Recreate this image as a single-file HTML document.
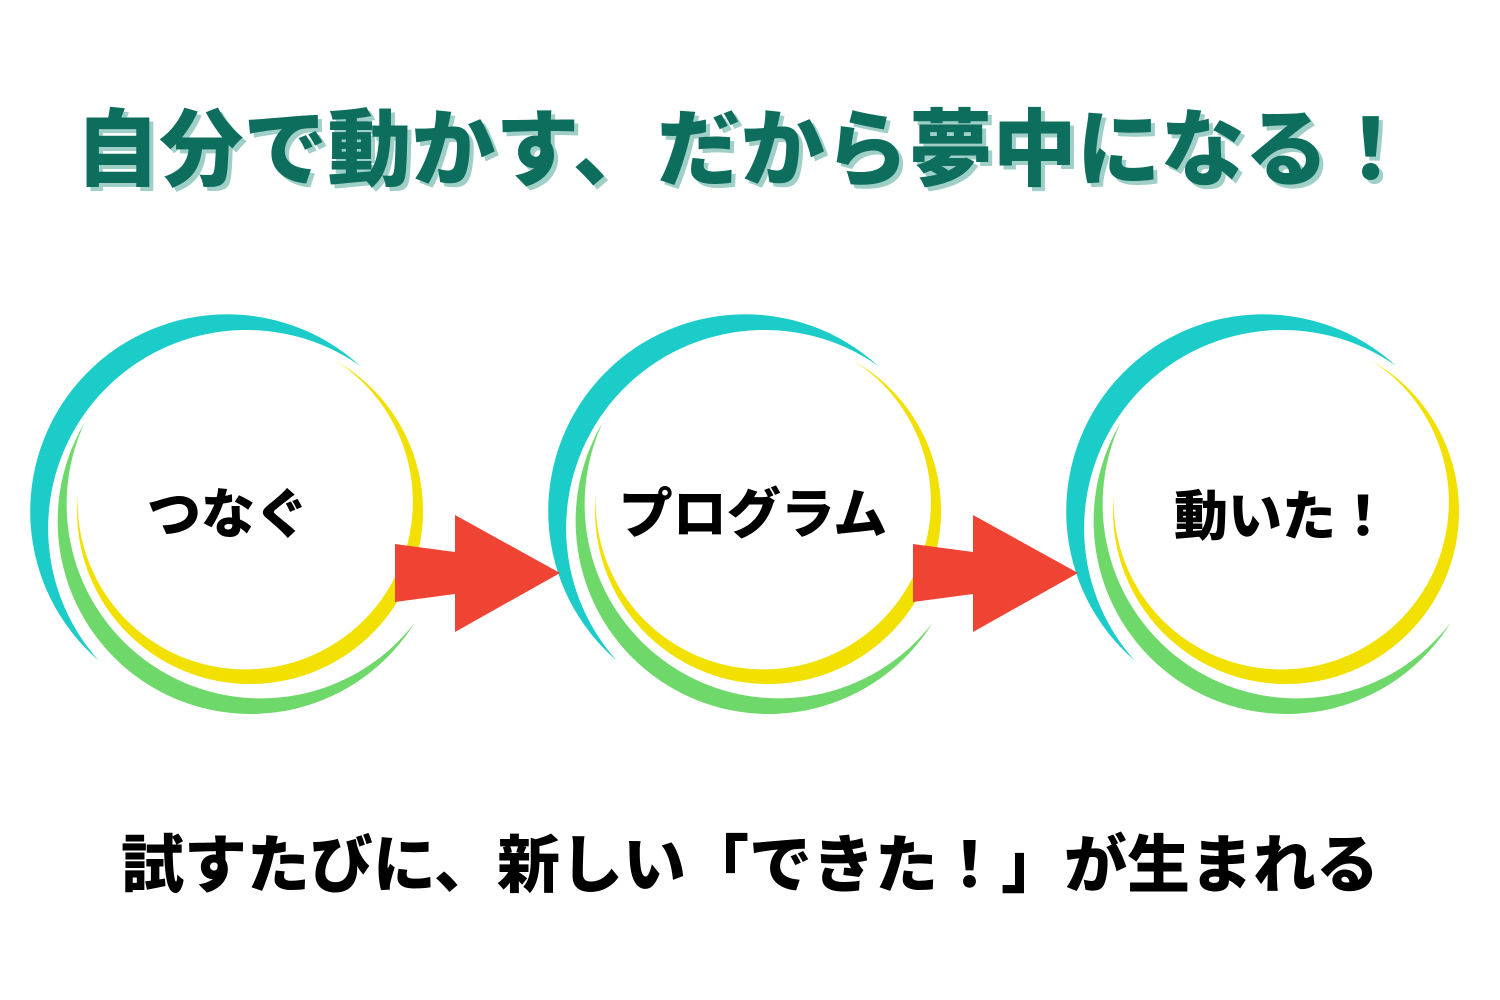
<!DOCTYPE html>
<html><head><meta charset="utf-8"><style>
html,body{margin:0;padding:0;background:#fff;}
body{width:1500px;height:1000px;position:relative;overflow:hidden;font-family:"Liberation Sans","Noto Sans CJK JP",sans-serif;}
.t{position:absolute;white-space:nowrap;font-weight:900;text-align:center;}
</style></head><body>
<svg width="1500" height="1000" style="position:absolute;left:0;top:0">
<defs>
<g id="c">
<path d="M 98.8 660.7 A 197 197 0 1 1 359.8 365.6 A 198.3 198.3 0 0 0 98.8 660.7 Z" fill="#1cccc8"/>
<path d="M 414.6 622.8 A 193 193 0 0 1 84.6 422.6 A 194.2 194.2 0 0 0 414.6 622.8 Z" fill="#6fd86a"/>
<path d="M 335.7 360.7 A 173 173 0 1 1 77.8 494.7 A 167.6 167.6 0 1 0 335.7 360.7 Z" fill="#f2e000"/>
</g>
</defs>
<use href="#c"/>
<use href="#c" x="518"/>
<use href="#c" x="1036"/>
<polygon points="395,544 455,552 455,515 560,573 455,632 455,594 395,602" fill="#ef4434"/>
<polygon points="913,544 973,552 973,515 1078,573 973,632 973,594 913,602" fill="#ef4434"/>
</svg>
<div class="t" style="left:-6px;width:1500px;top:100px;font-size:84px;line-height:100px;color:#0e6e5e;text-shadow:4px 4px 0 #9fcfc6;">自分で動かす、だから夢中になる！</div>
<div class="t" style="left:128px;width:200px;top:484px;font-size:54px;line-height:62px;color:#000;">つなぐ</div>
<div class="t" style="left:603px;width:300px;top:484px;font-size:54px;line-height:62px;color:#000;">プログラム</div>
<div class="t" style="left:1132px;width:300px;top:486px;font-size:54px;line-height:62px;color:#000;">動いた！</div>
<div class="t" style="left:0;width:1500px;top:830px;font-size:63px;line-height:72px;color:#000;">試すたびに、新しい「できた！」が生まれる</div>
</body></html>
